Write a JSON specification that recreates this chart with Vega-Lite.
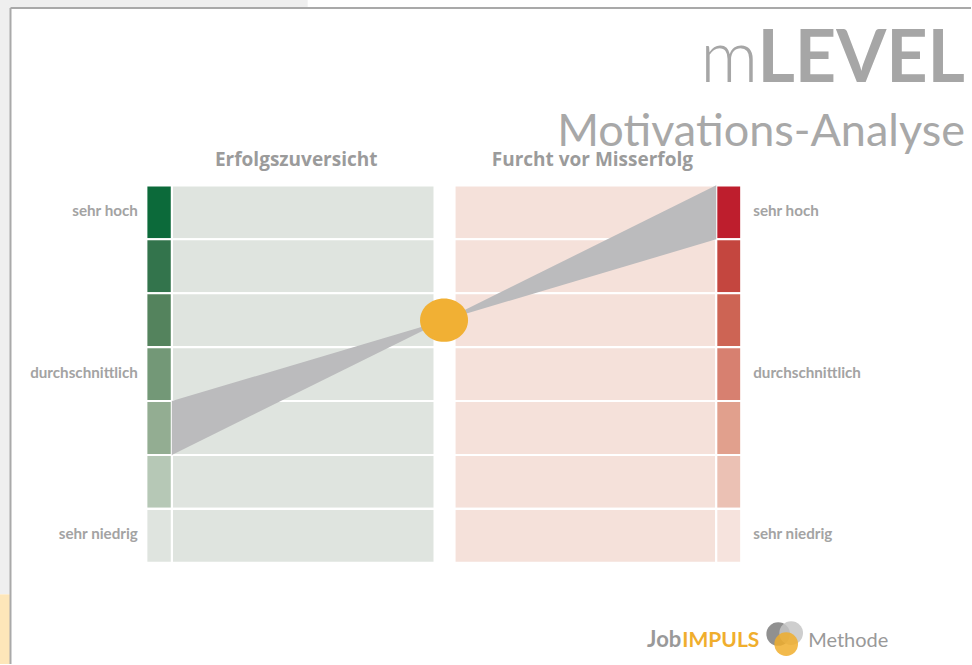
{
  "$schema": "https://vega.github.io/schema/vega-lite/v6.json",
  "width": 972,
  "height": 665,
  "padding": 0,
  "autosize": {"type": "fit", "contains": "padding"},
  "background": "white",
  "config": {"view": {"stroke": null}},
  "datasets": {
    "deco": [
      {"cell": "grau", "x0": -1.6312, "x1": -0.5009, "y0": 10.29, "y1": 10.438},
      {"cell": "grau", "x0": -1.6312, "x1": -1.5945, "y0": -0.585, "y1": 10.438},
      {"cell": "gelb", "x0": -1.6312, "x1": -1.5945, "y0": -1.877, "y1": -0.585}
    ],
    "cells": [
      {"cell": "E", "level": 7, "lo": 6, "hi": 7, "x0": -1.0, "x1": -0.0349},
      {"cell": "E", "level": 6, "lo": 5, "hi": 6, "x0": -1.0, "x1": -0.0349},
      {"cell": "E", "level": 5, "lo": 4, "hi": 5, "x0": -1.0, "x1": -0.0349},
      {"cell": "E", "level": 4, "lo": 3, "hi": 4, "x0": -1.0, "x1": -0.0349},
      {"cell": "E", "level": 3, "lo": 2, "hi": 3, "x0": -1.0, "x1": -0.0349},
      {"cell": "E", "level": 2, "lo": 1, "hi": 2, "x0": -1.0, "x1": -0.0349},
      {"cell": "E", "level": 1, "lo": 0, "hi": 1, "x0": -1.0, "x1": -0.0349},
      {"cell": "E7", "level": 7, "lo": 6, "hi": 7, "x0": -1.0936, "x1": -1.0},
      {"cell": "E6", "level": 6, "lo": 5, "hi": 6, "x0": -1.0936, "x1": -1.0},
      {"cell": "E5", "level": 5, "lo": 4, "hi": 5, "x0": -1.0936, "x1": -1.0},
      {"cell": "E4", "level": 4, "lo": 3, "hi": 4, "x0": -1.0936, "x1": -1.0},
      {"cell": "E3", "level": 3, "lo": 2, "hi": 3, "x0": -1.0936, "x1": -1.0},
      {"cell": "E2", "level": 2, "lo": 1, "hi": 2, "x0": -1.0936, "x1": -1.0},
      {"cell": "E1", "level": 1, "lo": 0, "hi": 1, "x0": -1.0936, "x1": -1.0},
      {"cell": "F", "level": 7, "lo": 6, "hi": 7, "x0": 0.0385, "x1": 1.0},
      {"cell": "F", "level": 6, "lo": 5, "hi": 6, "x0": 0.0385, "x1": 1.0},
      {"cell": "F", "level": 5, "lo": 4, "hi": 5, "x0": 0.0385, "x1": 1.0},
      {"cell": "F", "level": 4, "lo": 3, "hi": 4, "x0": 0.0385, "x1": 1.0},
      {"cell": "F", "level": 3, "lo": 2, "hi": 3, "x0": 0.0385, "x1": 1.0},
      {"cell": "F", "level": 2, "lo": 1, "hi": 2, "x0": 0.0385, "x1": 1.0},
      {"cell": "F", "level": 1, "lo": 0, "hi": 1, "x0": 0.0385, "x1": 1.0},
      {"cell": "F7", "level": 7, "lo": 6, "hi": 7, "x0": 1.0, "x1": 1.0917},
      {"cell": "F6", "level": 6, "lo": 5, "hi": 6, "x0": 1.0, "x1": 1.0917},
      {"cell": "F5", "level": 5, "lo": 4, "hi": 5, "x0": 1.0, "x1": 1.0917},
      {"cell": "F4", "level": 4, "lo": 3, "hi": 4, "x0": 1.0, "x1": 1.0917},
      {"cell": "F3", "level": 3, "lo": 2, "hi": 3, "x0": 1.0, "x1": 1.0917},
      {"cell": "F2", "level": 2, "lo": 1, "hi": 2, "x0": 1.0, "x1": 1.0917},
      {"cell": "F1", "level": 1, "lo": 0, "hi": 1, "x0": 1.0, "x1": 1.0917}
    ],
    "wedges": [
      {"wedge": "Erfolgszuversicht", "x": -1.0, "lo": 2, "hi": 3},
      {"wedge": "Erfolgszuversicht", "x": 0.0, "lo": 4.5, "hi": 4.5},
      {"wedge": "Furcht vor Misserfolg", "x": 0.0, "lo": 4.5, "hi": 4.5},
      {"wedge": "Furcht vor Misserfolg", "x": 1.0, "lo": 6, "hi": 7}
    ],
    "labels": [
      {"t": "sehr hoch", "level": 6.5},
      {"t": "durchschnittlich", "level": 3.5},
      {"t": "sehr niedrig", "level": 0.5}
    ],
    "logo": [
      {"cell": "logo dunkel", "x": 1.2275, "y": -1.321},
      {"cell": "logo hell", "x": 1.2752, "y": -1.303},
      {"cell": "logo orange", "x": 1.2569, "y": -1.507}
    ]
  },
  "layer": [
    {
      "data": {"name": "deco"},
      "mark": {"type": "rect"},
      "encoding": {
        "x": {"field": "x0", "type": "quantitative", "scale": {"domain": [-1.6312, 1.9358], "nice": false, "zero": false}, "axis": null},
        "x2": {"field": "x1"},
        "y": {"field": "y0", "type": "quantitative", "scale": {"domain": [-1.877, 10.438], "nice": false, "zero": false}, "axis": null},
        "y2": {"field": "y1"},
        "color": {"field": "cell", "type": "nominal", "legend": null,
          "scale": {
            "domain": ["E", "E1", "E2", "E3", "E4", "E5", "E6", "E7", "F", "F1", "F2", "F3", "F4", "F5", "F6", "F7", "grau", "gelb", "logo dunkel", "logo hell", "logo orange"],
            "range": ["#dfe4df", "#dfe4df", "#b6c8b6", "#93ad92", "#739877", "#54835d", "#33744c", "#0c6a3a", "#f5e1da", "#f6e3dd", "#ebc1b4", "#e1a08d", "#d78070", "#cd6454", "#c4463f", "#be1e2d", "#efefef", "#fde6b9", "#7d7d7d", "#c6c6c6", "#f0ae2d"]
          }}
      }
    },
    {
      "data": {"name": "cells"},
      "mark": {"type": "rect", "stroke": "white", "strokeWidth": 2.1},
      "encoding": {
        "x": {"field": "x0", "type": "quantitative", "scale": {"domain": [-1.6312, 1.9358], "nice": false, "zero": false}, "axis": null},
        "x2": {"field": "x1"},
        "y": {"field": "lo", "type": "quantitative", "scale": {"domain": [-1.877, 10.438], "nice": false, "zero": false}, "axis": null},
        "y2": {"field": "hi"},
        "color": {"field": "cell", "type": "nominal", "legend": null}
      }
    },
    {
      "data": {"values": [
        {"x0": -1.5926, "x1": 1.9358, "y0": 10.2898, "y1": 10.2898},
        {"x0": -1.5926, "x1": -1.5926, "y0": -1.877, "y1": 10.2898}
      ]},
      "mark": {"type": "rule", "color": "#a9a9a9", "strokeWidth": 2},
      "encoding": {
        "x": {"field": "x0", "type": "quantitative", "scale": {"domain": [-1.6312, 1.9358], "nice": false, "zero": false}, "axis": null},
        "x2": {"field": "x1"},
        "y": {"field": "y0", "type": "quantitative", "scale": {"domain": [-1.877, 10.438], "nice": false, "zero": false}, "axis": null},
        "y2": {"field": "y1"}
      }
    },
    {
      "data": {"name": "wedges"},
      "mark": {"type": "area", "color": "#bbbbbd", "opacity": 1, "interpolate": "linear"},
      "encoding": {
        "x": {"field": "x", "type": "quantitative", "scale": {"domain": [-1.6312, 1.9358], "nice": false, "zero": false}, "axis": null},
        "y": {"field": "lo", "type": "quantitative", "scale": {"domain": [-1.877, 10.438], "nice": false, "zero": false}, "axis": null},
        "y2": {"field": "hi"},
        "detail": {"field": "wedge", "type": "nominal"}
      }
    },
    {
      "data": {"values": [{"Erfolgszuversicht": 3, "Furcht vor Misserfolg": 7, "x": 0, "y": 4.5}]},
      "mark": {"type": "point", "filled": true, "opacity": 1, "color": "#f1b034", "size": 2304, "shape": "M-1,0A1,0.9,0,1,1,1,0A1,0.9,0,1,1,-1,0Z"},
      "encoding": {
        "x": {"field": "x", "type": "quantitative", "scale": {"domain": [-1.6312, 1.9358], "nice": false, "zero": false}, "axis": null},
        "y": {"field": "y", "type": "quantitative", "scale": {"domain": [-1.877, 10.438], "nice": false, "zero": false}, "axis": null}
      }
    },
    {
      "data": {"name": "labels"},
      "mark": {"type": "text", "align": "right", "baseline": "middle", "dy": -1.5, "font": "Lato", "fontWeight": "bold", "fontSize": 15.2, "color": "#a3a3a3"},
      "encoding": {
        "x": {"datum": -1.1248, "type": "quantitative", "scale": {"domain": [-1.6312, 1.9358], "nice": false, "zero": false}, "axis": null},
        "y": {"field": "level", "type": "quantitative", "scale": {"domain": [-1.877, 10.438], "nice": false, "zero": false}, "axis": null},
        "text": {"field": "t"}
      }
    },
    {
      "data": {"name": "labels"},
      "mark": {"type": "text", "align": "left", "baseline": "middle", "dy": -1.5, "font": "Lato", "fontWeight": "bold", "fontSize": 15.2, "color": "#a3a3a3"},
      "encoding": {
        "x": {"datum": 1.1358, "type": "quantitative", "scale": {"domain": [-1.6312, 1.9358], "nice": false, "zero": false}, "axis": null},
        "y": {"field": "level", "type": "quantitative", "scale": {"domain": [-1.877, 10.438], "nice": false, "zero": false}, "axis": null},
        "text": {"field": "t"}
      }
    },
    {
      "data": {"values": [{"t": "Erfolgszuversicht", "x": -0.543}, {"t": "Furcht vor Misserfolg", "x": 0.545}]},
      "mark": {"type": "text", "align": "center", "baseline": "alphabetic", "font": "Open Sans", "fontWeight": "bold", "fontSize": 19, "color": "#9b9b9b"},
      "encoding": {
        "x": {"field": "x", "type": "quantitative", "scale": {"domain": [-1.6312, 1.9358], "nice": false, "zero": false}, "axis": null},
        "y": {"datum": 7.351, "type": "quantitative", "scale": {"domain": [-1.877, 10.438], "nice": false, "zero": false}, "axis": null},
        "text": {"field": "t"}
      }
    },
    {
      "data": {"values": [{"t": "LEVEL"}]},
      "mark": {"type": "text", "align": "right", "baseline": "alphabetic", "font": "Lato", "fontWeight": "bold", "fontSize": 72, "color": "#a6a6a6"},
      "encoding": {
        "x": {"datum": 1.9138, "type": "quantitative", "scale": {"domain": [-1.6312, 1.9358], "nice": false, "zero": false}, "axis": null},
        "y": {"datum": 8.919, "type": "quantitative", "scale": {"domain": [-1.877, 10.438], "nice": false, "zero": false}, "axis": null},
        "text": {"field": "t"}
      }
    },
    {
      "data": {"values": [{"t": "m"}]},
      "mark": {"type": "text", "align": "right", "baseline": "alphabetic", "font": "Lato", "fontWeight": 300, "fontSize": 72, "color": "#a6a6a6"},
      "encoding": {
        "x": {"datum": 1.1541, "type": "quantitative", "scale": {"domain": [-1.6312, 1.9358], "nice": false, "zero": false}, "axis": null},
        "y": {"datum": 8.919, "type": "quantitative", "scale": {"domain": [-1.877, 10.438], "nice": false, "zero": false}, "axis": null},
        "text": {"field": "t"}
      }
    },
    {
      "data": {"values": [{"t": "Motivations-Analyse"}]},
      "mark": {"type": "text", "align": "right", "baseline": "alphabetic", "font": "Lato", "fontWeight": "normal", "fontSize": 45, "color": "#a8a8a8"},
      "encoding": {
        "x": {"datum": 1.9138, "type": "quantitative", "scale": {"domain": [-1.6312, 1.9358], "nice": false, "zero": false}, "axis": null},
        "y": {"datum": 7.736, "type": "quantitative", "scale": {"domain": [-1.877, 10.438], "nice": false, "zero": false}, "axis": null},
        "text": {"field": "t"}
      }
    },
    {
      "data": {"name": "logo"},
      "mark": {"type": "point", "filled": true, "opacity": 0.85, "size": 560, "shape": "circle"},
      "encoding": {
        "x": {"field": "x", "type": "quantitative", "scale": {"domain": [-1.6312, 1.9358], "nice": false, "zero": false}, "axis": null},
        "y": {"field": "y", "type": "quantitative", "scale": {"domain": [-1.877, 10.438], "nice": false, "zero": false}, "axis": null},
        "color": {"field": "cell", "type": "nominal", "legend": null}
      }
    },
    {
      "data": {"values": [{"t": "Job"}]},
      "mark": {"type": "text", "align": "right", "baseline": "alphabetic", "font": "Lato", "fontWeight": "bold", "fontSize": 22, "color": "#999999"},
      "encoding": {
        "x": {"datum": 0.8716, "type": "quantitative", "scale": {"domain": [-1.6312, 1.9358], "nice": false, "zero": false}, "axis": null},
        "y": {"datum": -1.562, "type": "quantitative", "scale": {"domain": [-1.877, 10.438], "nice": false, "zero": false}, "axis": null},
        "text": {"field": "t"}
      }
    },
    {
      "data": {"values": [{"t": "IMPULS"}]},
      "mark": {"type": "text", "align": "left", "baseline": "alphabetic", "font": "Lato", "fontWeight": "bold", "fontSize": 21, "color": "#f0ae2d"},
      "encoding": {
        "x": {"datum": 0.8752, "type": "quantitative", "scale": {"domain": [-1.6312, 1.9358], "nice": false, "zero": false}, "axis": null},
        "y": {"datum": -1.562, "type": "quantitative", "scale": {"domain": [-1.877, 10.438], "nice": false, "zero": false}, "axis": null},
        "text": {"field": "t"}
      }
    },
    {
      "data": {"values": [{"t": "Methode"}]},
      "mark": {"type": "text", "align": "left", "baseline": "alphabetic", "font": "Lato", "fontWeight": "normal", "fontSize": 20, "color": "#999999"},
      "encoding": {
        "x": {"datum": 1.3376, "type": "quantitative", "scale": {"domain": [-1.6312, 1.9358], "nice": false, "zero": false}, "axis": null},
        "y": {"datum": -1.562, "type": "quantitative", "scale": {"domain": [-1.877, 10.438], "nice": false, "zero": false}, "axis": null},
        "text": {"field": "t"}
      }
    }
  ]
}
